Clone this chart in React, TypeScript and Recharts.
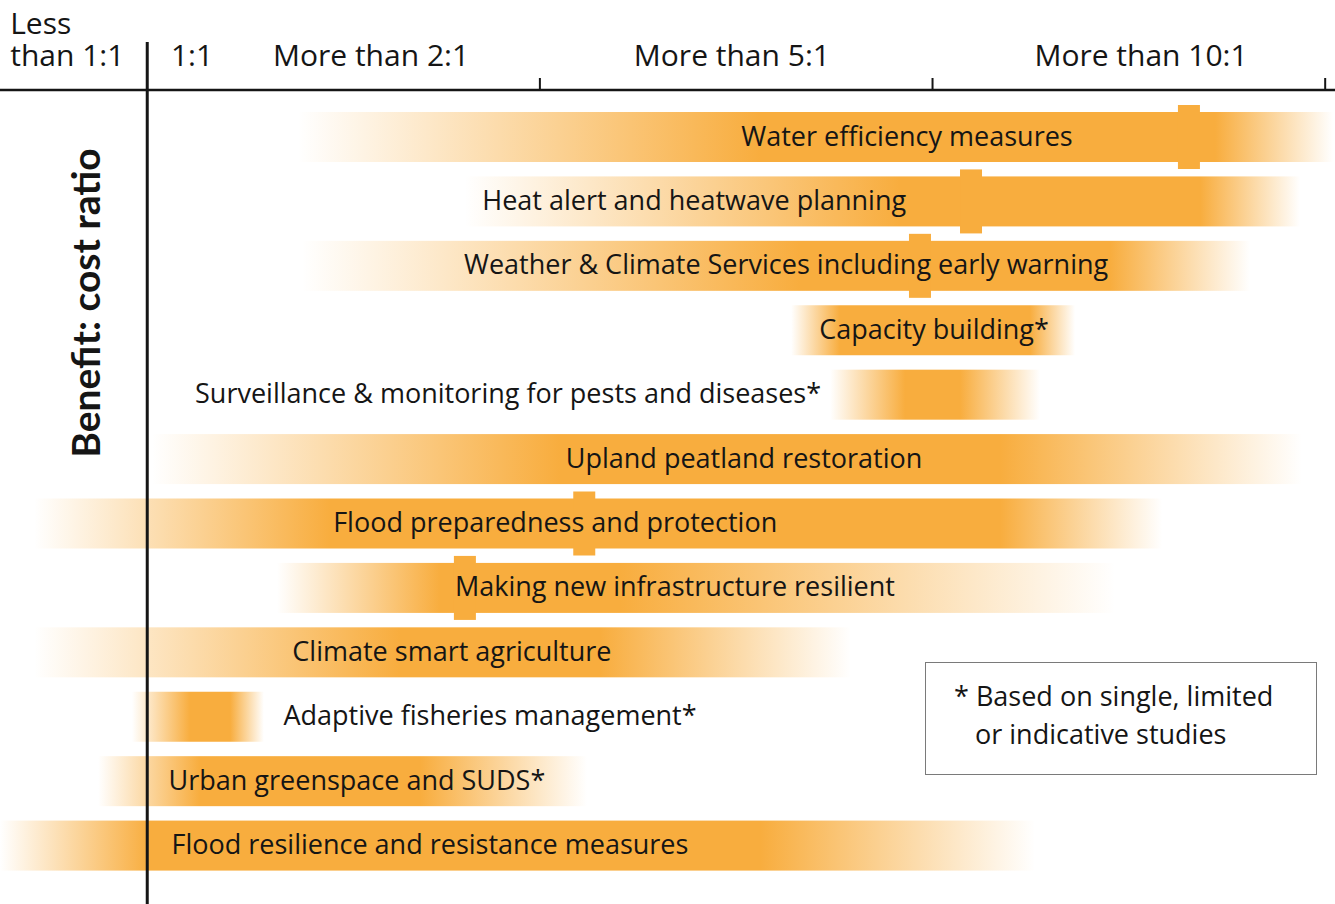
import React from "react";
import { BarChart, Bar, XAxis, YAxis, ReferenceLine } from "recharts";

// rows, top to bottom
const measures = [
  "Water efficiency measures",
  "Heat alert and heatwave planning",
  "Weather & Climate Services including early warning",
  "Capacity building*",
  "Surveillance & monitoring for pests and diseases*",
  "Upland peatland restoration",
  "Flood preparedness and protection",
  "Making new infrastructure resilient",
  "Climate smart agriculture",
  "Adaptive fisheries management*",
  "Urban greenspace and SUDS*",
  "Flood resilience and resistance measures",
];

// position on the benefit:cost scale (0 = 1:1 line, 1/2/3 = the band ticks)
const lowEnd = [0.384, 0.809, 0.394, 1.64, 1.739, 0.012, -0.288, 0.33, -0.288, -0.039, -0.125, -0.375];
const solidFrom = [1.561, 1.917, 1.663, 1.764, 1.93, 1.051, 0.466, 0.746, 0.644, 0.109, 0.134, 0.007];
const solidTo = [2.72, 2.682, 2.452, 2.248, 2.07, 2.172, 2.172, 1.204, 1.153, 0.211, 0.695, 1.561];
const highEnd = [3.02, 2.936, 2.809, 2.363, 2.274, 2.941, 2.585, 2.465, 1.792, 0.297, 1.12, 2.261];
const centralEstimate = [2.653, 2.098, 1.968, null, null, null, 1.113, 0.809, null, null, null, null];
const labelAt = [1.935, 1.393, 1.627, 2.004, 0.919, 1.52, 1.039, 1.344, 0.776, 0.873, 0.534, 0.72];

const tickLabels = ["Less than 1:1", "1:1", "More than 2:1", "More than 5:1", "More than 10:1"];
const tickLabelPos = [-0.349, 0.114, 0.57, 1.489, 2.531];
const bandTicks = [1, 2, 3];

const ORANGE = "#F8AD3E";
const INK = "#151515";
const FONT = "'Open Sans', 'Noto Sans', sans-serif";
const TITLE_FONT = "Lato, 'Open Sans', sans-serif";

const data = measures.map((name, i) => ({
  name,
  range: [lowEnd[i], highEnd[i]],
  low: lowEnd[i],
  high: highEnd[i],
  from: solidFrom[i],
  to: solidTo[i],
  mid: centralEstimate[i],
  labelX: labelAt[i],
}));

const GradientBar = (props: any) => {
  const { x, y, width, height, index } = props;
  const d = data[index];
  const span = d.high - d.low;
  const frac = (v: number) => (v - d.low) / span;
  const px = (v: number) => x + width * frac(v);
  const id = `bcr-grad-${index}`;
  return (
    <g>
      <defs>
        <linearGradient id={id} x1="0" y1="0" x2="1" y2="0">
          <stop offset={0} stopColor={ORANGE} stopOpacity={0} />
          <stop offset={frac(d.from)} stopColor={ORANGE} stopOpacity={1} />
          <stop offset={frac(d.to)} stopColor={ORANGE} stopOpacity={1} />
          <stop offset={1} stopColor={ORANGE} stopOpacity={0} />
        </linearGradient>
      </defs>
      <rect x={x} y={y} width={width} height={height} fill={`url(#${id})`} />
      {d.mid != null && (
        <rect x={px(d.mid) - 11} y={y - 7} width={22} height={height + 14} fill={ORANGE} />
      )}
      <text
        x={px(d.labelX)}
        y={y + height / 2 - 2}
        textAnchor="middle"
        dominantBaseline="central"
        fontFamily={FONT}
        fontSize={27}
        fill={INK}
      >
        {d.name}
      </text>
    </g>
  );
};

const TopTick = (props: any) => {
  const { x, payload } = props;
  const i = tickLabelPos.indexOf(payload.value);
  const label = tickLabels[i];
  if (i === 0) {
    const [first, ...rest] = label.split(" ");
    return (
      <text x={x} y={34} textAnchor="start" fontFamily={FONT} fontSize={30} fill={INK}>
        <tspan x={x} y={34}>{first}</tspan>
        <tspan x={x} y={66}>{rest.join(" ")}</tspan>
      </text>
    );
  }
  return (
    <text x={x} y={66} textAnchor="middle" fontFamily={FONT} fontSize={30} fill={INK}>
      {label}
    </text>
  );
};

const App = () => (
  <div style={{ position: "absolute", left: 0, top: 0, width: 1335, height: 904, background: "#fff", fontFamily: FONT }}>
    <BarChart
      width={1335}
      height={904}
      data={data}
      layout="vertical"
      margin={{ top: 0, right: 0, bottom: 0, left: 0 }}
    >
      <XAxis
        type="number"
        orientation="top"
        domain={[-0.375, 3.025]}
        allowDataOverflow
        ticks={tickLabelPos}
        interval={0}
        height={90}
        tick={TopTick}
        tickLine={false}
        axisLine={{ stroke: INK, strokeWidth: 2.5 }}
      />
      <YAxis type="category" dataKey="name" hide padding={{ top: 15, bottom: 26 }} />
      {bandTicks.map((t) => (
        <ReferenceLine
          key={t}
          x={t}
          shape={(p: any) => {
            const top = Math.min(p.y1, p.y2);
            return <line x1={p.x1} y1={top - 12} x2={p.x1} y2={top} stroke={INK} strokeWidth={2} />;
          }}
        />
      ))}
      <ReferenceLine
        x={0}
        shape={(p: any) => {
          const top = Math.min(p.y1, p.y2);
          const bottom = Math.max(p.y1, p.y2);
          return <line x1={p.x1} y1={top - 48} x2={p.x1} y2={bottom} stroke={INK} strokeWidth={3} />;
        }}
      />
      <Bar dataKey="range" barSize={50} shape={GradientBar} isAnimationActive={false} />
    </BarChart>
    <div
      style={{
        position: "absolute",
        left: 85,
        top: 303,
        transform: "translate(-50%, -50%) rotate(-90deg)",
        whiteSpace: "nowrap",
        fontFamily: TITLE_FONT,
        fontWeight: 700,
        fontSize: 39,
        color: INK,
      }}
    >
      Benefit: cost ratio
    </div>
    <div
      style={{
        position: "absolute",
        left: 925,
        top: 662,
        width: 390,
        height: 111,
        border: "1.5px solid #7a7a7a",
        boxSizing: "content-box",
      }}
    >
      <div
        style={{
          position: "absolute",
          left: 28,
          top: 14,
          paddingLeft: 21,
          textIndent: -21,
          fontSize: 27,
          lineHeight: "38px",
          color: INK,
          whiteSpace: "nowrap",
        }}
      >
        * Based on single, limited
        <br />
        or indicative studies
      </div>
    </div>
  </div>
);

export default App;
